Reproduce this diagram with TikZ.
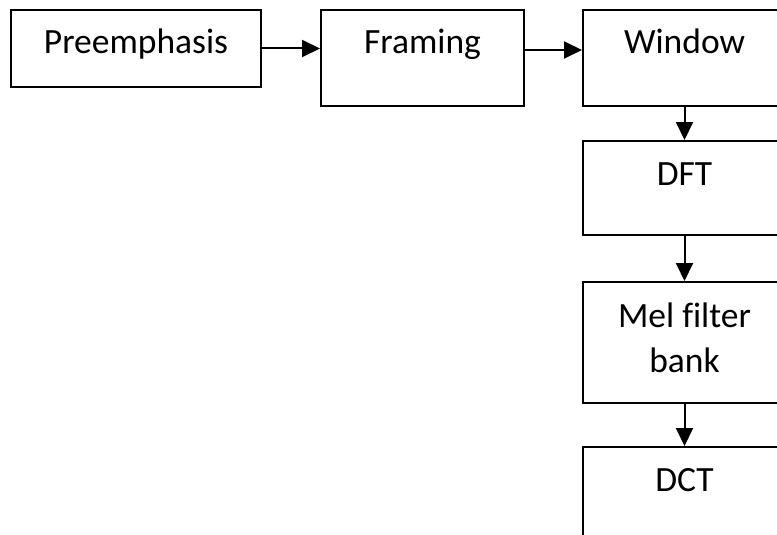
\documentclass[tikz,border=0pt]{standalone}
\usepackage{fontspec}
\setmainfont[Ligatures=NoCommon]{Carlito}
\usetikzlibrary{arrows.meta}
\begin{document}
\begin{tikzpicture}[x=1pt,y=-1pt,
  block/.style={draw,line width=2pt,inner sep=0pt,anchor=north west,minimum width=203pt,text height=44pt,text depth=52pt,align=center,font=\fontsize{35.5}{45}\selectfont},
  flow/.style={-{Triangle[length=18pt,width=17pt]},line width=2pt}]
\useasboundingbox (0,0) rectangle (777,535);
\clip (0,0) rectangle (777,535);
\node[block,minimum width=250pt,text depth=33pt] (pre) at (10,9) {Preemphasis};
\node[block] (framing) at (320,9) {Framing};
\node[block] (window) at (582,9) {Window};
\node[block,text depth=50pt] (dft) at (582,140) {DFT};
\node[block,text height=90pt,text depth=31pt] (mel) at (582,281) {Mel filter\\bank};
\node[block,text depth=90pt] (dct) at (582,446) {DCT};
\draw[flow] (pre.east) -- (pre.east -| framing.west);
\draw[flow] ([yshift=-41pt]framing.north east) -- ([yshift=-41pt]window.north west);
\draw[flow] (window.south) -- (dft.north);
\draw[flow] (dft.south) -- (mel.north);
\draw[flow] (mel.south) -- (dct.north);
\end{tikzpicture}
\end{document}
